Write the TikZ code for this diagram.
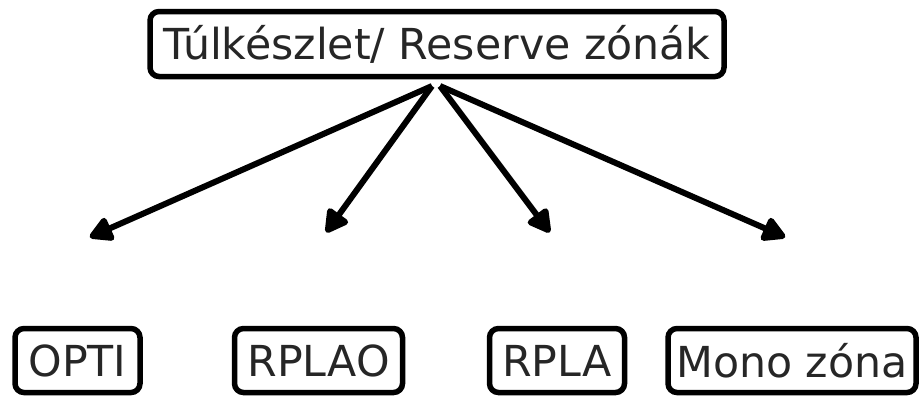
\documentclass[tikz,border=0pt]{standalone}
\usepackage{fontspec}
\setmainfont{DejaVu Sans}
\usetikzlibrary{arrows.meta}
\begin{document}
\begin{tikzpicture}[x=1pt,y=-1pt,
  box/.style={draw=black, line width=5.5pt, rounded corners=9pt, inner sep=0pt,
    font=\fontsize{42.7}{42.7}\selectfont, text=black!85, anchor=center},
  conn/.style={draw=black, line width=6pt, -{Triangle[length=26pt,width=27pt,round]}, shorten >=2pt}]
\useasboundingbox (0,0) rectangle (920,397);
\node[box, minimum width=574pt, minimum height=65pt] (top) at (437,44) {Túlkészlet/ Reserve zónák};
\node[box, minimum width=125pt, minimum height=64pt] (opti) at (77.5,360.5) {OPTI};
\node[box, minimum width=168pt, minimum height=64pt] (rplao) at (318.5,360.5) {RPLAO};
\node[box, minimum width=135pt, minimum height=64pt] (rpla) at (557,360.5) {RPLA};
\node[box, minimum width=248pt, minimum height=64pt] (mono) at (792,360.5) {Mono zóna};
\coordinate (s1) at (432,86);
\coordinate (s2) at (440,86);
\coordinate (e1) at (88,238);
\coordinate (e2) at (325,234);
\coordinate (e3) at (551,234);
\coordinate (e4) at (787,238);
\draw[conn] (s1) -- (e1);
\draw[conn] (s1) -- (e2);
\draw[conn] (s2) -- (e3);
\draw[conn] (s2) -- (e4);
\end{tikzpicture}
\end{document}
